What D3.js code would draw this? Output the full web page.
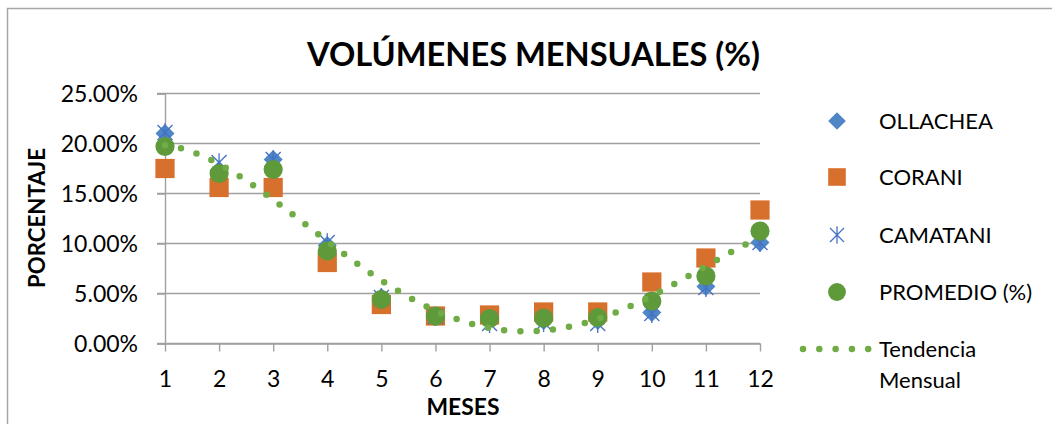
<!DOCTYPE html>
<html>
<head>
<meta charset="utf-8">
<script src="https://cdn.jsdelivr.net/npm/d3@7"></script>
<style>
  html, body { margin: 0; padding: 0; background: #fff; }
  svg { display: block; font-family: Lato, "Open Sans", sans-serif; }
</style>
</head>
<body>
<svg id="chart" width="1052" height="424"></svg>
<script>
// Monthly volume shares (%) per station
const months = [1, 2, 3, 4, 5, 6, 7, 8, 9, 10, 11, 12];
const ollachea = [21.0, 17.3, 18.4, 9.8, 4.6, 2.7, 2.4, 2.3, 2.3, 3.1, 5.7, 10.1];
const corani   = [17.5, 15.6, 15.6, 8.1, 3.9, 2.75, 2.85, 3.15, 3.15, 6.15, 8.55, 13.35];
const camatani = [21.1, 18.1, 18.4, 10.1, 4.6, 2.7, 2.0, 2.1, 2.0, 3.0, 5.6, 10.1];
const promedio = [19.7, 17.0, 17.4, 9.25, 4.4, 2.75, 2.5, 2.55, 2.6, 4.25, 6.75, 11.25];
const yTicks = [0, 5, 10, 15, 20, 25];
const trendOrder = 4;

const seriesNames = ["OLLACHEA", "CORANI", "CAMATANI", "PROMEDIO (%)"];
const trendName = ["Tendencia", "Mensual"];

const colors = {
  ollachea: "#4f86c6",
  corani: "#d8702d",
  camatani: "#4472c4",
  promedio: "#5e9a3a",
  trend: "#6fac46"
};

const svg = d3.select("#chart");

// chart frame
svg.append("rect")
  .attr("x", 7.5).attr("y", 8.5)
  .attr("width", 1100).attr("height", 500)
  .attr("fill", "none").attr("stroke", "#a6a6a6").attr("stroke-width", 1.5);

const x = d3.scaleLinear().domain([1, 12]).range([165, 760]);
const y = d3.scaleLinear().domain([0, 25]).range([343.5, 93.5]);

// gridlines
svg.append("g")
  .selectAll("line")
  .data(yTicks)
  .join("line")
  .attr("x1", 157).attr("x2", 760)
  .attr("y1", d => y(d)).attr("y2", d => y(d))
  .attr("stroke", "#a0a0a0").attr("stroke-width", 1.4);

// y axis
const yAxis = svg.append("g")
  .attr("transform", `translate(${x(1)},0)`)
  .call(d3.axisLeft(y).tickValues(yTicks).tickSize(8).tickPadding(19)
    .tickFormat(d => d3.format(".2f")(d) + "%"));
yAxis.select(".domain").attr("stroke", "#a0a0a0").attr("stroke-width", 1.4);
yAxis.selectAll(".tick line").attr("stroke", "#a0a0a0").attr("stroke-width", 1.4);
yAxis.selectAll(".tick text")
  .attr("font-size", 23).attr("fill", "#000")
  .attr("font-family", "Lato").attr("dy", "0.36em");

// x axis
const xAxis = svg.append("g")
  .attr("transform", `translate(0,${y(0)})`)
  .call(d3.axisBottom(x).tickValues(months).tickSize(8).tickSizeOuter(0).tickPadding(19)
    .tickFormat(d3.format("d")));
xAxis.select(".domain").attr("stroke", "#a0a0a0").attr("stroke-width", 1.4);
xAxis.selectAll(".tick line").attr("stroke", "#a0a0a0").attr("stroke-width", 1.4);
xAxis.selectAll(".tick text")
  .attr("font-size", 23).attr("fill", "#000")
  .attr("font-family", "Lato").attr("dy", "0.71em");

// helper: size a text element so that it spans a given width
function fitWidth(sel, target) {
  const node = sel.node();
  const base = parseFloat(sel.attr("font-size"));
  const w = node.getComputedTextLength();
  sel.attr("font-size", base * target / w);
}

// titles
const title = svg.append("text")
  .attr("x", 533.5).attr("y", 66)
  .attr("text-anchor", "middle").attr("font-weight", "bold")
  .attr("font-size", 33).text("VOLÚMENES MENSUALES (%)");
fitWidth(title, 453);

const xTitle = svg.append("text")
  .attr("x", 463).attr("y", 415)
  .attr("text-anchor", "middle").attr("font-weight", "bold")
  .attr("font-size", 22).text("MESES");
fitWidth(xTitle, 73);

const yTitle = svg.append("text")
  .attr("transform", "translate(45,218) rotate(-90)")
  .attr("text-anchor", "middle").attr("font-weight", "bold")
  .attr("font-size", 22).text("PORCENTAJE");
fitWidth(yTitle, 140);

// marker shapes
const sym = {
  diamond: d3.symbol().type(d3.symbolSquare).size(180),
  square: d3.symbol().type(d3.symbolSquare).size(370),
  circle: d3.symbol().type(d3.symbolCircle).size(290)
};
function starPath(r) {
  return `M${-r},${-r}L${r},${r}M${-r},${r}L${r},${-r}M0,${-r * 1.25}L0,${r * 1.25}`;
}

const plot = svg.append("g");

plot.append("g").selectAll("path")
  .data(months.map((m, i) => [m, ollachea[i]]))
  .join("path")
  .attr("d", sym.diamond())
  .attr("transform", d => `translate(${x(d[0])},${y(d[1])}) rotate(45)`)
  .attr("fill", colors.ollachea);

plot.append("g").selectAll("path")
  .data(months.map((m, i) => [m, corani[i]]))
  .join("path")
  .attr("d", sym.square())
  .attr("transform", d => `translate(${x(d[0])},${y(d[1])})`)
  .attr("fill", colors.corani);

plot.append("g").selectAll("path")
  .data(months.map((m, i) => [m, camatani[i]]))
  .join("path")
  .attr("d", starPath(7.5))
  .attr("transform", d => `translate(${x(d[0])},${y(d[1])})`)
  .attr("fill", "none").attr("stroke", colors.camatani).attr("stroke-width", 1.3);

plot.append("g").selectAll("path")
  .data(months.map((m, i) => [m, promedio[i]]))
  .join("path")
  .attr("d", sym.circle())
  .attr("transform", d => `translate(${x(d[0])},${y(d[1])})`)
  .attr("fill", colors.promedio);

// least-squares polynomial fit of the average series
function polyFit(xs, ys, order) {
  const n = order + 1;
  const A = Array.from({length: n}, () => new Array(n + 1).fill(0));
  for (let r = 0; r < n; r++) {
    for (let c = 0; c < n; c++) A[r][c] = d3.sum(xs, v => Math.pow(v, r + c));
    A[r][n] = d3.sum(xs, (v, i) => ys[i] * Math.pow(v, r));
  }
  for (let i = 0; i < n; i++) {
    let p = i;
    for (let k = i + 1; k < n; k++) if (Math.abs(A[k][i]) > Math.abs(A[p][i])) p = k;
    [A[i], A[p]] = [A[p], A[i]];
    for (let k = i + 1; k < n; k++) {
      const f = A[k][i] / A[i][i];
      for (let j = i; j <= n; j++) A[k][j] -= f * A[i][j];
    }
  }
  const coef = new Array(n).fill(0);
  for (let i = n - 1; i >= 0; i--) {
    let s = A[i][n];
    for (let j = i + 1; j < n; j++) s -= A[i][j] * coef[j];
    coef[i] = s / A[i][i];
  }
  return t => coef.reduce((acc, c, k) => acc + c * Math.pow(t, k), 0);
}

// dotted polynomial trendline
const trend = polyFit(months, promedio, trendOrder);
const trendPts = d3.range(1, 12.0001, 0.02).map(t => [t, trend(t)]);
plot.append("path")
  .attr("d", d3.line().x(d => x(d[0])).y(d => y(d[1]))(trendPts))
  .attr("fill", "none")
  .attr("stroke", colors.trend).attr("stroke-width", 6.5)
  .attr("stroke-linecap", "round").attr("stroke-dasharray", "0 16.3");

// legend
const legend = svg.append("g");
const lx = 837, textX = 879;
const rows = [121, 177, 235, 292];
legend.append("path").attr("d", d3.symbol().type(d3.symbolSquare).size(155)())
  .attr("transform", `translate(${lx},${rows[0]}) rotate(45)`).attr("fill", colors.ollachea);
legend.append("path").attr("d", d3.symbol().type(d3.symbolSquare).size(310)())
  .attr("transform", `translate(${lx},${rows[1]})`).attr("fill", colors.corani);
legend.append("path").attr("d", starPath(7))
  .attr("transform", `translate(${lx},${rows[2]})`)
  .attr("fill", "none").attr("stroke", colors.camatani).attr("stroke-width", 1.3);
legend.append("path").attr("d", d3.symbol().type(d3.symbolCircle).size(250)())
  .attr("transform", `translate(${lx},${rows[3]})`).attr("fill", colors.promedio);

legend.selectAll("text.series")
  .data(seriesNames)
  .join("text")
  .attr("class", "series")
  .attr("x", textX).attr("y", (d, i) => rows[i] + 8)
  .attr("font-size", 22).attr("fill", "#000").text(d => d);

legend.append("line")
  .attr("x1", 803).attr("x2", 869).attr("y1", 349).attr("y2", 349)
  .attr("stroke", colors.trend).attr("stroke-width", 6.5)
  .attr("stroke-linecap", "round").attr("stroke-dasharray", "0 16.3");
legend.selectAll("text.trend")
  .data(trendName)
  .join("text")
  .attr("class", "trend")
  .attr("x", textX).attr("y", (d, i) => 357 + i * 31)
  .attr("font-size", 22).attr("fill", "#000").text(d => d);
</script>
</body>
</html>
